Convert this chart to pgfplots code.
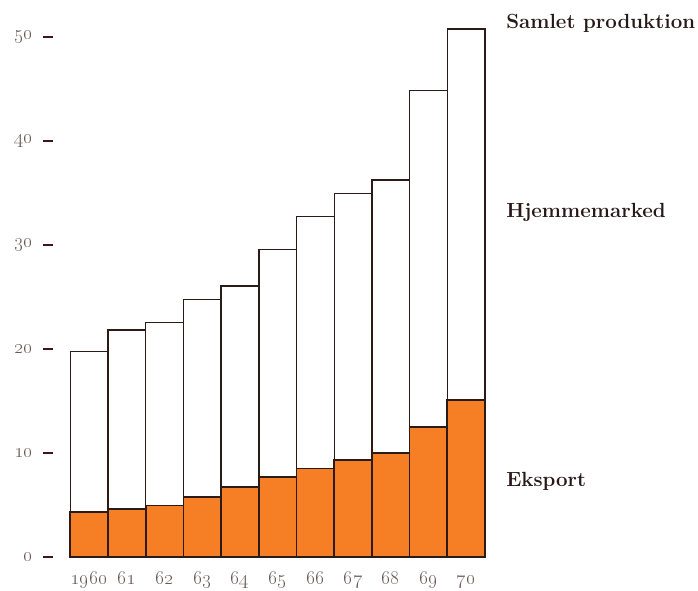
\RequirePackage{fix-cm}
\documentclass[border=0pt]{standalone}
\usepackage{pgfplots}
\pgfplotsset{compat=1.18}
\definecolor{barorange}{RGB}{246,126,36}
\definecolor{edge}{RGB}{43,27,23}
\definecolor{ticklab}{RGB}{105,90,90}
\definecolor{tickmark}{RGB}{60,25,20}
\definecolor{labtext}{RGB}{40,25,25}
\begin{document}
\begin{tikzpicture}
\useasboundingbox (-70.3pt,-34pt) rectangle (627.7pt,557pt);
\begin{axis}[
  scale only axis, width=414.7pt, height=557pt,
  xmin=-0.5, xmax=10.5, ymin=0, ymax=53.61,
  clip=false,
  ybar stacked, bar width=1,
  axis x line*=bottom, axis y line*=left,
  y axis line style={draw=none},
  x axis line style={draw=none},
  xtick={0,...,10},
  xticklabels={\oldstylenums{1960},\oldstylenums{61},\oldstylenums{62},\oldstylenums{63},\oldstylenums{64},\oldstylenums{65},\oldstylenums{66},\oldstylenums{67},\oldstylenums{68},\oldstylenums{69},\oldstylenums{70}},
  x tick style={draw=none},
  xticklabel style={anchor=base, yshift=-27pt, font=\fontsize{19.5}{22}\selectfont, text=ticklab},
  ytick={0,10,20,30,40,50},
  yticklabels={\oldstylenums{0},\oldstylenums{10},\oldstylenums{20},\oldstylenums{30},\oldstylenums{40},\oldstylenums{50}},
  ytick align=outside,
  major tick length=10pt,
  y tick style={tickmark, line width=2pt, xshift=-17pt},
  yticklabel style={xshift=-24pt, font=\fontsize{19.5}{22}\selectfont, text=ticklab},
]
\addplot[fill=barorange, draw=edge, line width=1.7pt] coordinates {
  (0,4.3) (1,4.65) (2,4.97) (3,5.8) (4,6.74) (5,7.73) (6,8.53) (7,9.33) (8,9.98) (9,12.54) (10,15.1)};
\addplot[fill=white, draw=edge, line width=1.4pt] coordinates {
  (0,15.5) (1,17.2) (2,17.58) (3,19.0) (4,19.36) (5,21.87) (6,24.27) (7,25.67) (8,26.32) (9,32.36) (10,35.7)};
\node[anchor=west, inner sep=0pt, font=\fontsize{20.5}{24}\selectfont\bfseries, text=labtext] at (axis cs:11.06,51.4) {Samlet produktion};
\node[anchor=west, inner sep=0pt, font=\fontsize{20.5}{24}\selectfont\bfseries, text=labtext] at (axis cs:11.06,33.2) {Hjemmemarked};
\node[anchor=west, inner sep=0pt, font=\fontsize{20.5}{24}\selectfont\bfseries, text=labtext] at (axis cs:11.06,7.27) {Eksport};
\end{axis}
\end{tikzpicture}
\end{document}
